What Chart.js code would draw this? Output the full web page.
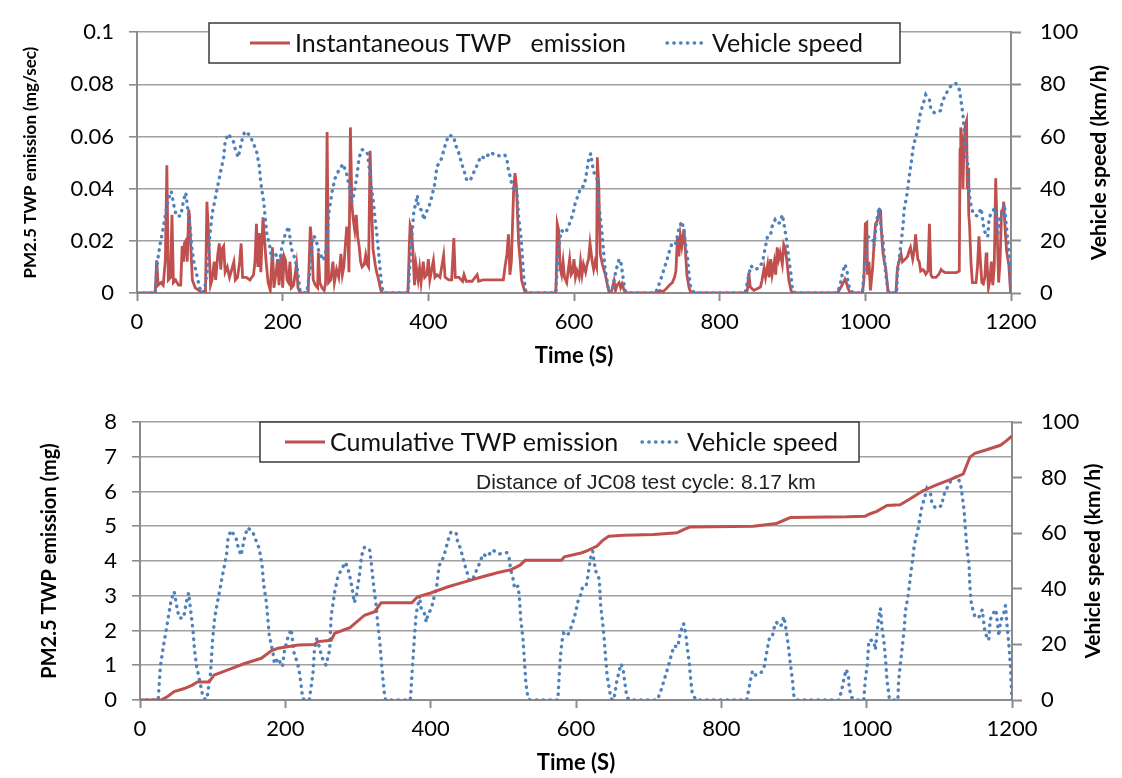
<!DOCTYPE html>
<html>
<head>
<meta charset="utf-8">
<script src="https://cdn.jsdelivr.net/npm/chart.js@4.4.1/dist/chart.umd.min.js"></script>
<style>
    html, body { margin: 0; padding: 0; background: #fff; }
    #topBox { position: absolute; left: 0; top: 0; width: 1122px; height: 380px; }
    #bottomBox { position: absolute; left: 0; top: 380px; width: 1122px; height: 398px; }
</style>
</head>
<body>
<div id="topBox"><canvas id="instChart"></canvas></div>
<div id="bottomBox"><canvas id="cumChart"></canvas></div>
<script>
// vehicle speed (JC08 cycle), km/h
const speedTime = [0, 25, 28, 32, 36, 41, 43, 47, 51, 54, 60, 64, 67, 70, 73, 75, 78, 82, 86, 90, 93, 97,
    100, 103, 109, 114, 119, 121, 125, 132, 134, 139, 144, 148, 155, 164, 168, 170, 174, 176, 178, 183, 185, 190, 196, 199,
    203, 208, 212, 217, 220, 224, 228, 233, 238, 240, 243, 247, 250, 256, 261, 263, 268, 272, 277, 283, 288, 292, 295, 298,
    302, 305, 309, 316, 318, 320, 322, 325, 327, 330, 332, 334, 336, 338, 372, 375, 378, 380, 382, 385, 386, 391, 394, 396,
    400, 403, 406, 409, 410, 412, 418, 421, 424, 428, 435, 437, 441, 444, 446, 450, 453, 458, 462, 467, 472, 478, 485, 494,
    505, 508, 510, 513, 515, 517, 520, 522, 524, 527, 529, 531, 534, 537, 575, 577, 579, 581, 583, 587, 590, 593, 597,
    600, 602, 606, 609, 614, 616, 618, 620, 623, 625, 627, 632, 634, 637, 639, 641, 643, 648, 652, 656, 659, 662, 665, 667, 670, 674,
    712, 717, 720, 724, 728, 731, 735, 740, 742, 744, 748, 751, 753, 756, 758, 760, 765,
    835, 840, 843, 847, 854, 859, 861, 863, 866, 870, 872, 876, 879, 883, 886, 888, 890, 892, 895, 898, 900, 904,
    962, 966, 969, 972, 975, 976, 979, 984, 996, 998,
    1001, 1003, 1006, 1010, 1012, 1014, 1017, 1019, 1021, 1024, 1026, 1028, 1031, 1033, 1043, 1044, 1047, 1050, 1052, 1053, 1057,
    1060, 1063, 1065, 1067, 1070, 1072, 1074, 1076, 1080, 1083, 1088, 1090, 1095, 1104, 1105, 1111, 1116, 1124, 1129, 1131, 1134,
    1136, 1138, 1141, 1142, 1144, 1147, 1149, 1154, 1159, 1163, 1168, 1170, 1175, 1178, 1182, 1184, 1189, 1191, 1193, 1196, 1198, 1199, 1200];
const speedKmh = [0, 0, 12, 19, 25, 33, 36, 39, 33, 29.5, 29.5, 35.5, 38.5, 31.5, 25, 18, 12, 7, 2, 0, 2, 9.5,
    22, 30, 38.5, 45.5, 52, 58, 61, 58.5, 56, 52, 58.5, 62, 60.5, 54.5, 48.5, 42, 35, 29, 23, 17, 13, 15, 12, 18,
    22, 25.5, 17, 13, 9, 0.5, 0, 0, 9.5, 18, 22, 19, 15.5, 12.5, 18, 30, 39, 44, 47, 49.5, 45.5, 40, 35, 38,
    45, 52, 55, 54, 50, 45, 40, 34, 28, 21, 14.5, 8.5, 3, 0, 0, 12, 24, 31, 33.5, 37.5, 33.5, 31.5, 28, 30.5,
    32.5, 35, 38.5, 42, 45, 48.5, 51.5, 54.5, 57.5, 60.5, 60, 57, 54.5, 51.5, 49.5, 46, 43, 43.5, 46, 49, 52.5, 51.5, 54, 52.5,
    53, 51, 47, 44, 41, 40, 41, 37.5, 29, 22, 14.5, 6, 0.5, 0, 0, 9.5, 17, 21.5, 24, 23, 24, 26, 29,
    32, 35, 37.5, 40.5, 41, 44, 47.5, 51, 53.5, 49.5, 46.5, 43.5, 34, 27, 21.5, 14.5, 8.5, 0.5, 0, 6.5, 10, 13, 11, 6.5, 1, 0,
    0, 3.5, 6, 9.5, 13, 16, 19.5, 19, 22, 24.5, 27.5, 24, 19, 13, 7, 2.5, 0,
    0, 7, 10.5, 9, 9.5, 12, 15, 18, 22, 22.5, 25.5, 28, 26.5, 27, 30, 27, 23.5, 20, 13, 7, 1, 0,
    0, 4, 8, 11, 8.5, 4.5, 1, 0, 0, 7,
    13, 21.5, 21.5, 21, 18, 24, 30, 33, 26, 20.5, 14.5, 7, 1, 0, 0, 7, 14.5, 21.5, 26.5, 31.5, 37.5,
    44, 50, 54.5, 57.5, 60.5, 63.5, 66.5, 69.5, 73, 76, 74, 70.5, 69, 70, 73, 76.5, 79, 80.5, 78, 74.5, 68.5,
    61, 54.5, 48.5, 41, 35, 31.5, 30, 29.5, 32.5, 24, 21.5, 29, 31.5, 32.5, 23, 28, 31.5, 34, 27.5, 19, 12, 5, 0];

// instantaneous PM2.5 TWP emission, mg/sec
const instTime = [0, 25, 27, 29, 33, 36, 39, 41, 43, 46, 48, 50, 53, 57, 60, 62, 64, 65, 67, 69, 71, 72, 74, 76, 80, 85, 89, 94, 96, 98,
    101, 103, 106, 108, 111, 113, 115, 117, 119, 121, 124, 127, 130, 133, 135, 138, 141, 143, 145, 150, 155, 160, 162, 164, 166, 168,
    170, 173, 175, 177, 180, 183, 186, 188, 191, 193, 195, 198, 200, 202, 204, 206, 208, 210, 212, 215, 219, 221, 224, 235, 238,
    240, 242, 245, 248, 249, 251, 254, 257, 259, 261, 263, 266, 269, 271, 274, 277, 280, 282, 284, 286, 288, 290, 291, 293, 295,
    297, 299, 301, 303, 305, 307, 309, 312, 314, 316, 318, 320, 322, 324, 327, 329, 331, 334, 336, 372, 374, 375, 377, 379, 381,
    383, 386, 388, 390, 393, 395, 398, 400, 402, 407, 409, 412, 416, 421, 423, 428, 432, 435, 437, 442, 447, 449, 452, 460, 467,
    469, 475, 485, 495, 503, 505, 508, 510, 512, 514, 517, 519, 521, 524, 526, 528, 531, 533, 575, 576, 577, 579, 581, 583, 585,
    587, 590, 594, 596, 598, 600, 602, 604, 607, 609, 611, 613, 616, 618, 620, 622, 625, 627, 629, 631, 632, 634, 636, 639, 643,
    646, 648, 651, 655, 657, 659, 662, 664, 666, 669, 671, 715, 718, 722, 727, 731, 735, 738, 740, 742, 744, 746, 748, 751, 753,
    755, 758, 760, 762, 836, 838, 840, 842, 847, 852, 856, 858, 861, 863, 866, 868, 870, 872, 875, 877, 879, 881, 883, 886, 888,
    890, 892, 895, 898, 900, 962, 966, 969, 972, 974, 976, 979, 996, 998, 1000, 1002, 1003, 1005, 1007, 1010, 1012, 1014, 1017,
    1019, 1021, 1022, 1024, 1026, 1028, 1031, 1033, 1042, 1044, 1047, 1049, 1051, 1055, 1058, 1060, 1062, 1065, 1067, 1069, 1072,
    1074, 1076, 1079, 1081, 1083, 1086, 1088, 1090, 1092, 1097, 1101, 1104, 1106, 1110, 1115, 1120, 1125, 1129, 1130, 1131, 1133,
    1134, 1135, 1137, 1139, 1140, 1141, 1142, 1143, 1145, 1147, 1149, 1152, 1154, 1156, 1158, 1160, 1162, 1164, 1166, 1167, 1169,
    1171, 1173, 1175, 1177, 1179, 1181, 1183, 1185, 1187, 1189, 1190, 1192, 1194, 1197, 1199, 1200];
const instEmission = [0, 0, 0.0125, 0.003, 0.004, 0.003, 0.013, 0.049, 0.005, 0.006, 0.030, 0.004, 0.005, 0.003, 0.003, 0.018, 0.012,
    0.019, 0.020, 0.012, 0.032, 0.030, 0.017, 0.005, 0.002, 0.001, 0, 0, 0.035, 0.024,
    0.003, 0.005, 0.012, 0.005, 0.015, 0.019, 0.009, 0.017, 0.018, 0.008, 0.010, 0.006, 0.009, 0.012, 0.005, 0.006, 0.012, 0.019,
    0.006, 0.006, 0.005, 0.007, 0.012, 0.0265, 0.010, 0.023,
    0.008, 0.029, 0.021, 0.013, 0.004, 0.001, 0.0175, 0.002, 0.008, 0.013, 0.003, 0.015, 0.002, 0.014, 0.0125, 0.005, 0.004, 0.012,
    0.002, 0.003, 0.011, 0.002, 0, 0, 0.0255,
    0.019, 0.005, 0.003, 0.002, 0.0155, 0.004, 0.002, 0.001, 0.004, 0.0617, 0.004, 0.005, 0.012, 0.004, 0.009, 0.006, 0.015, 0.007,
    0.010, 0.018, 0.0255, 0.019, 0.008, 0.0635, 0.034,
    0.028, 0.024, 0.030, 0.0215, 0.018, 0.012, 0.010, 0.011, 0.0145, 0.011, 0.010, 0.0545, 0.034, 0.017, 0.011, 0.008, 0.006, 0.002,
    0, 0, 0.019, 0.026, 0.024, 0.0155, 0.003,
    0.011, 0.005, 0.0096, 0.004, 0.012, 0.006, 0.007, 0.013, 0.005, 0.0125, 0.006, 0.007, 0.006, 0.0145, 0.006, 0.005, 0.005, 0.0211,
    0.006, 0.006, 0.0045, 0.007, 0.0045, 0.0045, 0.007,
    0.0045, 0.005, 0.005, 0.005, 0.005, 0.0095, 0.015, 0.0225, 0.007, 0.012, 0.0385, 0.046, 0.041, 0.019, 0.013, 0.005, 0.002, 0, 0,
    0.010, 0.0265, 0.024, 0.0095, 0.007, 0.012,
    0.006, 0.004, 0.013, 0.007, 0.008, 0.013, 0.006, 0.0085, 0.006, 0.012, 0.007, 0.011, 0.008, 0.011, 0.013, 0.019, 0.012, 0.009,
    0.012, 0.010, 0.052, 0.041, 0.015, 0.011, 0.007,
    0.003, 0.0005, 0, 0.0047, 0.001, 0.003, 0.004, 0.002, 0.0035, 0.001, 0, 0, 0.001, 0.0005, 0.0017, 0.003, 0.004, 0.006, 0.0085,
    0.0215, 0.014, 0.022, 0.018, 0.0245, 0.016,
    0.007, 0.002, 0.0005, 0, 0, 0.001, 0.0078, 0.0023, 0.001, 0.0017, 0.0023, 0.0047, 0.0096, 0.006, 0.011, 0.006, 0.013, 0.007,
    0.012, 0.007, 0.0175, 0.013, 0.0155, 0.011, 0.0185,
    0.017, 0.013, 0.005, 0.001, 0, 0, 0.002, 0.0035, 0.0053, 0.004, 0.002, 0, 0, 0.0047, 0.0265, 0.027, 0.007, 0.012, 0.001, 0.0095,
    0.019, 0.0265, 0.028,
    0.0315, 0.0315, 0.024, 0.016, 0.012, 0.0095, 0.001, 0, 0, 0.0095, 0.013, 0.015, 0.012, 0.013, 0.014, 0.016, 0.0175, 0.013, 0.016,
    0.0225, 0.013,
    0.012, 0.0084, 0.009, 0.0084, 0.0072, 0.0084, 0.0265, 0.007, 0.006, 0.006, 0.0072, 0.009, 0.0084, 0.0078, 0.0078, 0.0078, 0.0078,
    0.0084, 0.055, 0.0635, 0.058,
    0.040, 0.052, 0.064, 0.066, 0.040, 0.048, 0.030, 0.0265, 0.012, 0.004, 0.004, 0.004, 0.010, 0.0217, 0.012, 0.004, 0.0035, 0.006,
    0.0155, 0.012, 0.002,
    0.005, 0.012, 0.003, 0.010, 0.044, 0.0234, 0.004, 0.012, 0.0314, 0.032, 0.035, 0.024, 0.016, 0.0108, 0.002, 0];

// cumulative PM2.5 TWP emission, mg
const cumTime = [0, 29, 38, 47, 61, 72, 79, 95, 102, 120, 144, 167, 181, 190, 218, 240, 245, 263, 268, 289, 309, 323, 332, 374, 382,
    400, 424, 447, 470, 493, 511, 523, 530, 580, 584, 607, 615, 629, 636, 645, 666, 707, 739, 748, 757, 844, 876, 895, 973, 998,
    1005, 1014, 1028, 1046, 1060, 1078, 1097, 1115, 1133, 1142, 1149, 1165, 1184, 1193, 1200];
const cumEmission = [0, 0, 0.1, 0.24, 0.33, 0.43, 0.52, 0.52, 0.72, 0.86, 1.05, 1.2, 1.42, 1.49, 1.58, 1.6, 1.68, 1.72, 1.92, 2.08,
    2.44, 2.54, 2.8, 2.8, 2.97, 3.08, 3.26, 3.4, 3.54, 3.67, 3.75, 3.88, 4.02, 4.02, 4.12, 4.23, 4.29, 4.43, 4.58, 4.71, 4.74, 4.76,
    4.81, 4.9, 4.98, 5.0, 5.08, 5.25, 5.27, 5.29, 5.36, 5.43, 5.6, 5.62, 5.79, 6.03, 6.2, 6.34, 6.51, 6.99, 7.1, 7.2, 7.33, 7.47, 7.6];

const timeMax = 1200, timeStep = 200;
const speedMax = 100, speedStep = 20;
const instMax = 0.1, instStep = 0.02;
const cumMax = 8, cumStep = 1;
const cycleNote = 'Distance of JC08 test cycle: 8.17 km';

const RED = '#c0504d';
const BLUE = '#4f81bd';
const GRID = '#a0a0a0';
const AXIS = '#8c8c8c';

function pairs(xs, ys) {
    return xs.map((x, i) => ({x: x, y: ys[i]}));
}

// boxed legend inside the plot, the rotated speed title and an optional note
const boxLegend = {
    id: 'boxLegend',
    afterDatasetsDraw(chart, args, opts) {
        const ctx = chart.ctx;
        const cy = opts.y + opts.h / 2;
        ctx.save();
        ctx.fillStyle = '#fff';
        ctx.fillRect(opts.x, opts.y, opts.w, opts.h);
        ctx.strokeStyle = '#3a3a3a';
        ctx.lineWidth = 1.5;
        ctx.strokeRect(opts.x, opts.y, opts.w, opts.h);
        chart.data.datasets.forEach((ds, i) => {
            const it = opts.items[i];
            ctx.beginPath();
            ctx.strokeStyle = ds.borderColor;
            ctx.lineWidth = ds.borderWidth;
            ctx.lineCap = ds.borderCapStyle || 'butt';
            ctx.setLineDash(ds.borderDash || []);
            ctx.moveTo(it.lineX, cy);
            ctx.lineTo(it.lineX + 40, cy);
            ctx.stroke();
            ctx.setLineDash([]);
            ctx.fillStyle = '#111';
            ctx.font = '25px Lato';
            ctx.textBaseline = 'middle';
            ctx.textAlign = 'left';
            ctx.fillText(ds.label, it.textX, cy + 1);
        });
        if (opts.note) {
            ctx.fillStyle = '#222';
            ctx.font = '21px "Liberation Sans"';
            ctx.textBaseline = 'middle';
            ctx.fillText(opts.note.text, opts.note.x, opts.note.y);
        }
        const right = chart.scales.y1;
        ctx.translate(opts.rightTitleX, (right.top + right.bottom) / 2);
        ctx.rotate(-Math.PI / 2);
        ctx.fillStyle = '#000';
        ctx.font = 'bold 21px Lato';
        ctx.textAlign = 'center';
        ctx.textBaseline = 'middle';
        ctx.fillText(right.options.title.text, 0, 0);
        ctx.restore();
    }
};

function timeAxis(titlePadBottom, height) {
    return {
        type: 'linear',
        min: 0,
        max: timeMax,
        ticks: {stepSize: timeStep, padding: 8, color: '#000', font: {family: 'Lato', size: 22},
            callback: (v) => String(v)},
        grid: {drawOnChartArea: false, tickLength: 8, tickColor: AXIS, tickWidth: 2},
        border: {color: AXIS, width: 2},
        title: {display: true, text: 'Time (S)', color: '#000',
            font: {family: 'Lato', size: 22, weight: 'bold'}, padding: {top: 0, bottom: titlePadBottom}},
        afterFit: (scale) => { scale.height = height; }
    };
}

function leftAxis(max, step, title, titleSize, titlePad, width) {
    return {
        position: 'left',
        min: 0,
        max: max,
        ticks: {stepSize: step, padding: 15, color: '#000', font: {family: 'Lato', size: 22},
            callback: (v) => String(Math.round(v * 100) / 100)},
        grid: {color: GRID, lineWidth: 1.6, tickLength: 8, tickColor: AXIS},
        border: {color: AXIS, width: 2},
        title: {display: true, text: title, color: '#000',
            font: {family: 'Lato', size: titleSize, weight: 'bold'}, padding: {top: titlePad, bottom: 0}},
        afterFit: (scale) => { scale.width = width; }
    };
}

function speedAxis(width) {
    return {
        position: 'right',
        min: 0,
        max: speedMax,
        ticks: {stepSize: speedStep, padding: 19, color: '#000', font: {family: 'Lato', size: 22}},
        grid: {drawOnChartArea: false, tickLength: 10, tickColor: AXIS, tickWidth: 2},
        border: {color: AXIS, width: 2},
        title: {display: false, text: 'Vehicle speed (km/h)'},
        afterFit: (scale) => { scale.width = width; }
    };
}

function speedDataset(order) {
    return {
        label: 'Vehicle speed',
        data: pairs(speedTime, speedKmh),
        borderColor: BLUE,
        borderWidth: 3.4,
        borderDash: [0.4, 6.4],
        borderCapStyle: 'round',
        pointRadius: 0,
        yAxisID: 'y1',
        order: order
    };
}

document.addEventListener('DOMContentLoaded', function () {
    const ctxInst = document.getElementById('instChart');
    new Chart(ctxInst, {
        type: 'line',
        data: {
            datasets: [{
                label: 'Instantaneous TWP   emission',
                data: pairs(instTime, instEmission),
                borderColor: RED,
                borderWidth: 2.8,
                pointRadius: 0,
                yAxisID: 'y',
                order: 1
            }, speedDataset(0)]
        },
        options: {
            responsive: true,
            maintainAspectRatio: false,
            animation: false,
            layout: {padding: {top: 20, left: 0, right: 0, bottom: 0}},
            scales: {
                x: timeAxis(11, 87),
                y: leftAxis(instMax, instStep, 'PM2.5 TWP emission (mg/sec)', 17, 20, 137),
                y1: speedAxis(111)
            },
            plugins: {
                legend: {display: false},
                tooltip: {enabled: false},
                boxLegend: {
                    x: 209, y: 23, w: 691, h: 40,
                    items: [{lineX: 250, textX: 295}, {lineX: 667, textX: 712}],
                    rightTitleX: 1099
                }
            }
        },
        plugins: [boxLegend]
    });

    const ctxCum = document.getElementById('cumChart');
    new Chart(ctxCum, {
        type: 'line',
        data: {
            datasets: [{
                label: 'Cumulative TWP emission',
                data: pairs(cumTime, cumEmission),
                borderColor: RED,
                borderWidth: 3,
                pointRadius: 0,
                yAxisID: 'y',
                order: 0
            }, speedDataset(1)]
        },
        options: {
            responsive: true,
            maintainAspectRatio: false,
            animation: false,
            layout: {padding: {top: 42, left: 0, right: 0, bottom: 0}},
            scales: {
                x: timeAxis(2, 78),
                y: leftAxis(cumMax, cumStep, 'PM2.5 TWP emission (mg)', 20, 38, 140),
                y1: speedAxis(110)
            },
            plugins: {
                legend: {display: false},
                tooltip: {enabled: false},
                boxLegend: {
                    x: 260, y: 42, w: 599, h: 40,
                    items: [{lineX: 285, textX: 330}, {lineX: 642, textX: 687}],
                    note: {text: cycleNote, x: 476, y: 103},
                    rightTitleX: 1093
                }
            }
        },
        plugins: [boxLegend]
    });
});
</script>
</body>
</html>
